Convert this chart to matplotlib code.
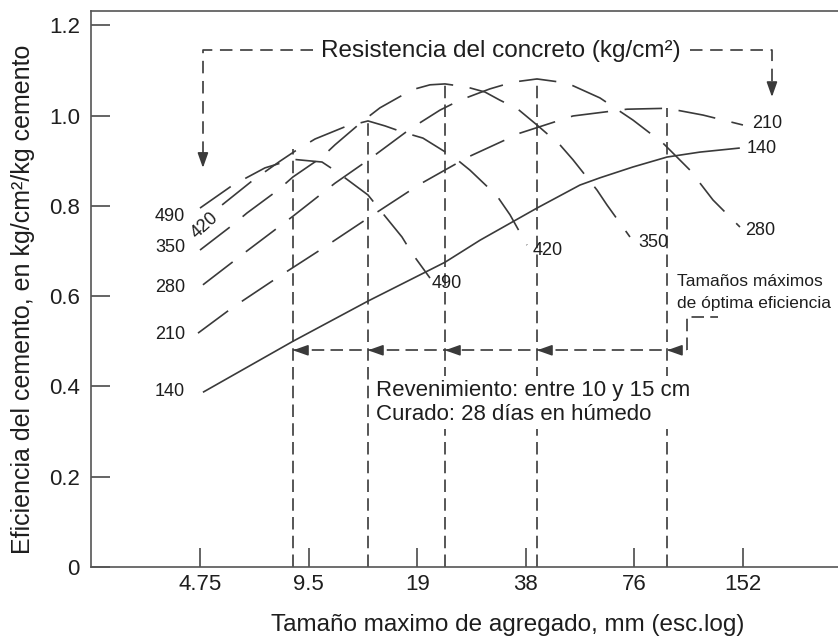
import matplotlib
matplotlib.use("Agg")
import matplotlib.pyplot as plt

plt.rcParams.update({"font.family": ["Liberation Sans", "DejaVu Sans"],
                     "lines.scale_dashes": False})

INK = "#3a3a3a"
TXT = "#1e1e1e"

# Eficiencia del cemento (kg/cm² por kg de cemento) vs tamaño máximo de agregado (mm)
x140 = [4.84, 8.6, 13.88, 22.69, 28.4, 40.82, 53.7, 61.0, 75.3, 93.6, 115.5, 149.0]
y140 = [0.387, 0.50, 0.589, 0.675, 0.724, 0.795, 0.846, 0.862, 0.886, 0.908, 0.919, 0.928]

x210 = [4.69, 5.83, 7.82, 10.22, 14.33, 19.34, 26.28, 36.62, 51.36, 72.5, 93.6, 117.8, 152.0]
y210 = [0.518, 0.574, 0.642, 0.702, 0.780, 0.848, 0.908, 0.961, 0.999, 1.014, 1.016, 1.001, 0.979]

x280 = [4.84, 6.41, 8.6, 11.24, 13.88, 18.15, 21.98, 24.97, 30.23, 35.02, 40.82, 49.42,
        61.0, 75.3, 91.2, 108.4, 125.5, 149.1]
y280 = [0.625, 0.700, 0.777, 0.850, 0.901, 0.970, 1.012, 1.034, 1.059, 1.074, 1.081, 1.072,
        1.039, 0.990, 0.939, 0.879, 0.813, 0.753]

x350 = [4.75, 5.86, 6.41, 7.82, 8.6, 10.35, 11.24, 13.44, 14.98, 18.38, 20.62, 22.69, 26.11,
        29.29, 32.22, 36.15, 40.82, 47.27, 51.36, 59.86, 63.8, 73.9]
y350 = [0.702, 0.758, 0.784, 0.835, 0.864, 0.908, 0.935, 0.988, 1.017, 1.057, 1.068, 1.070,
        1.063, 1.052, 1.034, 1.014, 0.979, 0.935, 0.902, 0.835, 0.802, 0.731]

x420 = [5.47, 6.62, 7.92, 8.82, 9.90, 11.98, 13.88, 15.47, 17.35, 19.71, 24.18, 26.61,
        31.62, 34.37, 38.29]
y420 = [0.802, 0.855, 0.899, 0.924, 0.948, 0.975, 0.988, 0.977, 0.963, 0.950, 0.906, 0.879,
        0.822, 0.780, 0.713]

x490 = [4.75, 5.86, 7.19, 8.6, 10.35, 11.39, 13.88, 14.98, 17.24, 18.38, 20.62]
y490 = [0.795, 0.846, 0.884, 0.903, 0.897, 0.875, 0.824, 0.791, 0.731, 0.695, 0.640]

# tamaños máximos de óptima eficiencia y altura de cada guía
opt_size = [8.6, 13.88, 22.69, 40.82, 93.6]
opt_top = [0.925, 0.994, 1.070, 1.081, 1.016]

xticks = [4.75, 9.5, 19, 38, 76, 152]
xtick_labels = ["4.75", "9.5", "19", "38", "76", "152"]
yticks = [0, 0.2, 0.4, 0.6, 0.8, 1.0, 1.2]
ytick_labels = ["0", "0.2", "0.4", "0.6", "0.8", "1.0", "1.2"]

CURVE_DASH = (0, (27, 12))
GUIDE_DASH = (0, (9, 4.5))

fig = plt.figure(figsize=(8.38, 6.39), dpi=100)
ax = fig.add_axes([91 / 838, 72 / 639, 1 - 91 / 838, 556 / 639])
ax.set_xscale("log")
ax.set_xlim(2.369, 278.8)
ax.set_ylim(0, 1.2315)

curves = [(x140, y140, "-"), (x210, y210, CURVE_DASH), (x280, y280, CURVE_DASH),
          (x350, y350, CURVE_DASH), (x420, y420, CURVE_DASH), (x490, y490, CURVE_DASH)]
for xs, ys, ls in curves:
    ax.plot(xs, ys, color=INK, lw=1.2, ls=ls, solid_capstyle="butt", dash_capstyle="butt")

# guías verticales en el tamaño óptimo de cada curva
for xv, top in zip(opt_size, opt_top):
    ax.plot([xv, xv], [0, top], color=INK, lw=1.2, ls=GUIDE_DASH)

# flechas horizontales hacia cada guía
y_arr = 0.48
ax.plot([opt_size[0], 106.3], [y_arr, y_arr], color=INK, lw=1.2, ls=GUIDE_DASH)
ax.plot([106.3, 106.3, 129.7], [y_arr, 0.554, 0.554], color=INK, lw=1.2, ls=GUIDE_DASH)
head = dict(arrowstyle="-|>,head_length=0.9,head_width=0.32", color=INK, lw=1.2,
            shrinkA=0, shrinkB=0)
for xv in opt_size:
    ax.annotate("", xy=(xv, y_arr), xytext=(9, 0), textcoords="offset points", arrowprops=head)

# llamada de "Resistencia del concreto"
ax.text(32.5, 1.13, "Resistencia del concreto (kg/cm²)", ha="center", va="baseline",
        fontsize=17.5, color=TXT)
ax.plot([9.76, 4.84, 4.84], [1.146, 1.146, 0.90], color=INK, lw=1.2, ls=(0, (9, 5.5)))
ax.plot([108.4, 182.9, 182.9], [1.146, 1.146, 1.06], color=INK, lw=1.2, ls=(0, (9, 5.5)))
ax.annotate("", xy=(4.84, 0.884), xytext=(0, 9), textcoords="offset points", arrowprops=head)
ax.annotate("", xy=(182.9, 1.041), xytext=(0, 9), textcoords="offset points", arrowprops=head)

# rótulos de las curvas
for lbl, yv in [("490", 0.777), ("350", 0.707), ("280", 0.618), ("210", 0.514), ("140", 0.388)]:
    ax.text(4.32, yv, lbl, ha="right", va="center", fontsize=13, color=TXT)
ax.text(4.90, 0.757, "420", ha="center", va="center", rotation=42, fontsize=13, color=TXT)
for lbl, xv, yv, ha in [("210", 161, 0.983, "left"), ("140", 156, 0.928, "left"),
                        ("280", 154, 0.746, "left"), ("350", 85.6, 0.718, "center"),
                        ("420", 43.8, 0.702, "center"), ("490", 23.0, 0.629, "center")]:
    ax.text(xv, yv, lbl, ha=ha, va="center", fontsize=13, color=TXT)

# nota de condiciones, sobre fondo blanco para cortar las guías
ax.text(14.6, 0.326, "Revenimiento: entre 10 y 15 cm\nCurado: 28 días en húmedo",
        ha="left", va="baseline", fontsize=16, color=TXT, linespacing=1.15,
        bbox=dict(boxstyle="square,pad=0.18", facecolor="white", edgecolor="none"),
        zorder=5)
ax.text(99.7, 0.622, "Tamaños máximos", ha="left", va="baseline", fontsize=12.5, color=TXT)
ax.text(99.7, 0.574, "de óptima eficiencia", ha="left", va="baseline", fontsize=12.5, color=TXT)

ax.set_xticks(xticks)
ax.set_xticklabels(xtick_labels)
ax.xaxis.set_minor_locator(matplotlib.ticker.NullLocator())
ax.set_yticks(yticks)
ax.set_yticklabels(ytick_labels)
ax.tick_params(direction="in", length=13.5, width=1.1, color=INK, labelsize=16,
               labelcolor=TXT)
ax.tick_params(axis="x", pad=5)
ax.tick_params(axis="y", pad=8)
ax.spines["right"].set_visible(False)
for s in ("left", "bottom", "top"):
    ax.spines[s].set_color("#555555")
    ax.spines[s].set_linewidth(1.2)

fig.text(508 / 838, 1 - 625 / 639, "Tamaño maximo de agregado, mm (esc.log)",
         ha="center", va="center", fontsize=17.5, color=TXT)
fig.text(23 / 838, 1 - 299 / 639, "Eficiencia del cemento, en kg/cm²/kg cemento",
         ha="center", va="center", rotation=90, fontsize=18, color=TXT)

fig.savefig("out.png", dpi=100)
